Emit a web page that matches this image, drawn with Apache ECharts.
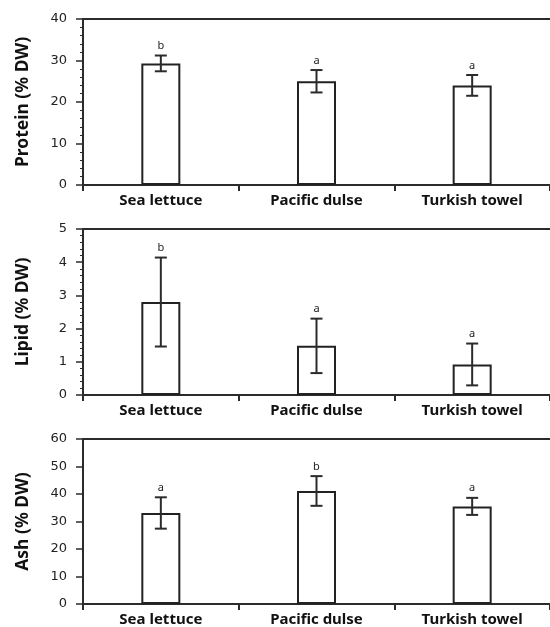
<!DOCTYPE html>
<html><head><meta charset="utf-8">
<script src="https://cdn.jsdelivr.net/npm/echarts@6/dist/echarts.min.js"></script>
<style>html,body{margin:0;padding:0;background:#fff}#c{width:550px;height:627px}</style>
</head><body><div id="c"></div>
<script>
const categories = ['Sea lettuce', 'Pacific dulse', 'Turkish towel'];
const proteinMean = [29.3, 25.0, 24.0];
const proteinErr = [1.9, 2.7, 2.5];
const proteinLetters = ['b', 'a', 'a'];
const lipidMean = [2.8, 1.48, 0.92];
const lipidErr = [1.34, 0.82, 0.63];
const lipidLetters = ['b', 'a', 'a'];
const ashMean = [33.1, 41.1, 35.5];
const ashErr = [5.7, 5.4, 3.1];
const ashLetters = ['a', 'b', 'a'];

const panels = [
  {name: 'Protein (% DW)', mean: proteinMean, err: proteinErr, letters: proteinLetters, max: 40, interval: 10, minor: true, top: 19},
  {name: 'Lipid (% DW)', mean: lipidMean, err: lipidErr, letters: lipidLetters, max: 5, interval: 1, minor: true, top: 229},
  {name: 'Ash (% DW)', mean: ashMean, err: ashErr, letters: ashLetters, max: 60, interval: 10, minor: false, top: 439}
];
const INK = '#2b2b2b';
const FONT = 'Noto Sans';

const grid = [], xAxis = [], yAxis = [], series = [];
panels.forEach((p, i) => {
  grid.push({left: 83, top: p.top, width: 477, height: 166, containLabel: false});
  xAxis.push({
    type: 'category', gridIndex: i, data: categories,
    axisLine: {lineStyle: {color: INK, width: 2}},
    axisTick: {show: true, length: 6, inside: false, lineStyle: {color: INK, width: 2}},
    axisLabel: {color: '#111', fontFamily: FONT, fontWeight: 'bold', fontSize: 15, margin: 8},
    splitLine: {show: false}
  });
  xAxis.push({
    type: 'category', gridIndex: i, position: 'top', data: categories,
    axisLine: {show: true, lineStyle: {color: INK, width: 2}},
    axisTick: {show: false}, axisLabel: {show: false}, splitLine: {show: false}
  });
  yAxis.push({
    type: 'value', gridIndex: i, min: 0, max: p.max, interval: p.interval,
    name: p.name, nameLocation: 'middle', nameRotate: 90, nameGap: 51,
    nameTextStyle: {color: '#111', fontFamily: FONT, fontWeight: 'bold', fontSize: 17.5},
    axisLine: {show: true, lineStyle: {color: INK, width: 2}},
    axisTick: {show: true, length: 7, lineStyle: {color: INK, width: 1.5}},
    minorTick: {show: p.minor, splitNumber: 5, length: 3, lineStyle: {color: INK, width: 1}},
    axisLabel: {color: '#222', fontFamily: 'DejaVu Sans', fontSize: 13, margin: 16},
    splitLine: {show: false}
  });
  series.push({
    type: 'bar', xAxisIndex: 2 * i, yAxisIndex: i, data: p.mean, barWidth: 39,
    itemStyle: {color: '#fff', borderColor: '#222', borderWidth: 2},
    silent: true, animation: false, z: 2
  });
  const errData = p.mean.map((m, k) => [k, m - p.err[k], m + p.err[k], p.letters[k]]);
  series.push({
    type: 'custom', xAxisIndex: 2 * i, yAxisIndex: i, data: errData,
    silent: true, animation: false, z: 5,
    encode: {x: 0, y: [1, 2]},
    renderItem: (params, api) => {
      const x = api.value(0);
      const lo = api.coord([x, api.value(1)]);
      const hi = api.coord([x, api.value(2)]);
      const cap = 6;
      const st = {stroke: INK, lineWidth: 2};
      return {type: 'group', children: [
        {type: 'line', shape: {x1: lo[0], y1: lo[1], x2: hi[0], y2: hi[1]}, style: st},
        {type: 'line', shape: {x1: lo[0] - cap, y1: lo[1], x2: lo[0] + cap, y2: lo[1]}, style: st},
        {type: 'line', shape: {x1: hi[0] - cap, y1: hi[1], x2: hi[0] + cap, y2: hi[1]}, style: st},
        {type: 'text', x: hi[0], y: hi[1] - 4, style: {text: p.letters[params.dataIndex], fill: '#222', font: '11px "' + FONT + '"', align: 'center', verticalAlign: 'bottom'}}
      ]};
    }
  });
});

const chart = echarts.init(document.getElementById('c'), null, {renderer: 'canvas'});
chart.setOption({animation: false, grid, xAxis, yAxis, series});
</script></body></html>
